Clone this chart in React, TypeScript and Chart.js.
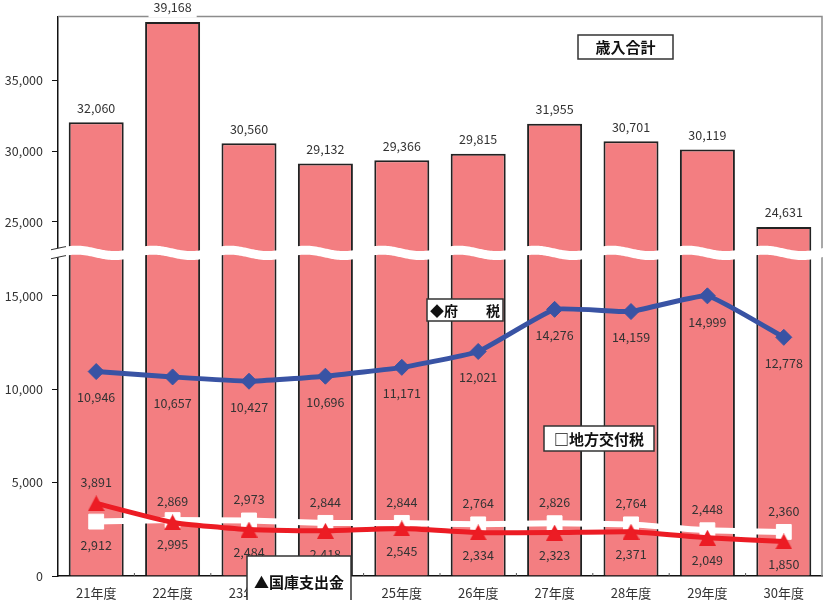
import React, { useEffect, useRef } from 'react';
import { Chart, registerables } from 'chart.js';

Chart.register(...registerables);

// ---- data ----
const categories = ['21年度', '22年度', '23年度', '24年度', '25年度', '26年度', '27年度', '28年度', '29年度', '30年度'];
const totalRevenue = [32060, 39168, 30560, 29132, 29366, 29815, 31955, 30701, 30119, 24631];
const prefTax = [10946, 10657, 10427, 10696, 11171, 12021, 14276, 14159, 14999, 12778];
const localAllocTax = [2912, 2995, 2973, 2844, 2844, 2764, 2826, 2764, 2448, 2360];
const treasuryDisb = [3891, 2869, 2484, 2418, 2545, 2334, 2323, 2371, 2049, 1850];
const lowerTicks = [0, 5000, 10000, 15000];
const upperTicks = [25000, 30000, 35000];
const LOWER_MAX = 17300;
const UPPER_MIN = 22800;
const UPPER_MAX = 39550;

// ---- styles ----
const FONT = '"Noto Sans CJK JP", "Noto Sans", sans-serif';
const BLUE = '#3953A4';
const RED = '#EC1C24';
const PINK = '#F37E81';
const TEXT = '#333333';
const SWAP_INDEX = 2; // from this index the white series label goes above

const fmt = (v: number) => Number(v).toLocaleString('en-US');

function makeTriangle(color: string, w: number, h: number) {
  const c = document.createElement('canvas');
  c.width = w;
  c.height = h;
  const g = c.getContext('2d')!;
  g.fillStyle = color;
  g.beginPath();
  g.moveTo(w / 2, 0);
  g.lineTo(w, h);
  g.lineTo(0, h);
  g.closePath();
  g.fill();
  return c;
}

const decorPlugin = {
  id: 'decor',
  afterDraw(chart: any) {
    const { ctx, chartArea: ca, scales } = chart;
    const xs = scales.x;
    const yL = scales.y;
    const breakY = yL.top;
    ctx.save();

    // plot-area frame (top & right)
    ctx.strokeStyle = '#8c8c8c';
    ctx.lineWidth = 1.5;
    ctx.beginPath();
    ctx.moveTo(ca.left, ca.top);
    ctx.lineTo(ca.right, ca.top);
    ctx.lineTo(ca.right, ca.bottom);
    ctx.stroke();

    // small category-boundary ticks on x axis
    const step = xs.getPixelForValue(1) - xs.getPixelForValue(0);
    ctx.strokeStyle = '#555';
    ctx.lineWidth = 1;
    for (let i = 1; i < categories.length; i++) {
      const px = xs.getPixelForValue(i) - step / 2;
      ctx.beginPath();
      ctx.moveTo(px, ca.bottom - 3);
      ctx.lineTo(px, ca.bottom);
      ctx.stroke();
    }

    // wavy break band
    const x0 = xs.getPixelForValue(0) - step * 0.258;
    const amp = 2.7;
    const half = 4.5;
    const wy = (px: number) => breakY - amp * Math.cos((2 * Math.PI * (px - x0)) / step);
    const xa = 51;
    const xb = 823;
    ctx.fillStyle = '#ffffff';
    ctx.beginPath();
    for (let px = xa; px <= xb; px += 1) ctx.lineTo(px, wy(px) - half);
    for (let px = xb; px >= xa; px -= 1) ctx.lineTo(px, wy(px) + half);
    ctx.closePath();
    ctx.fill();
    // break marks at axis
    ctx.strokeStyle = '#333';
    ctx.lineWidth = 1;
    [-half, half].forEach((off) => {
      ctx.beginPath();
      for (let px = 51; px <= 66; px += 1) {
        if (px === 51) ctx.moveTo(px, wy(px) + off);
        else ctx.lineTo(px, wy(px) + off);
      }
      ctx.stroke();
    });

    // data labels
    ctx.font = `12.5px ${FONT}`;
    ctx.textAlign = 'center';
    ctx.textBaseline = 'middle';

    const prefMeta = chart.getDatasetMeta(0);
    prefMeta.data.forEach((el: any, i: number) => {
      ctx.fillStyle = TEXT;
      ctx.fillText(fmt(prefTax[i]), el.x, el.y + 26);
    });
    const locMeta = chart.getDatasetMeta(1);
    locMeta.data.forEach((el: any, i: number) => {
      const off = i < SWAP_INDEX ? 24 : -21;
      ctx.fillStyle = TEXT;
      ctx.fillText(fmt(localAllocTax[i]), el.x, el.y + off);
    });
    const treMeta = chart.getDatasetMeta(2);
    treMeta.data.forEach((el: any, i: number) => {
      const off = i < SWAP_INDEX ? -21 : 23;
      ctx.fillStyle = TEXT;
      ctx.fillText(fmt(treasuryDisb[i]), el.x, el.y + off);
    });
    const barMeta = chart.getDatasetMeta(4);
    barMeta.data.forEach((el: any, i: number) => {
      const t = fmt(totalRevenue[i]);
      const w = ctx.measureText(t).width + 10;
      const ly = el.y - 14.3;
      ctx.fillStyle = '#ffffff';
      ctx.fillRect(el.x - w / 2, ly - 10, w, 20);
      ctx.fillStyle = TEXT;
      ctx.fillText(t, el.x, ly);
    });

    // legend-like boxes
    const box = (text: string, x1: number, y1: number, x2: number, y2: number, size: number, ty?: number) => {
      ctx.fillStyle = '#ffffff';
      ctx.fillRect(x1, y1, x2 - x1, y2 - y1);
      ctx.strokeStyle = '#333';
      ctx.lineWidth = 1.5;
      ctx.strokeRect(x1, y1, x2 - x1, y2 - y1);
      ctx.fillStyle = '#111';
      ctx.font = `bold ${size}px ${FONT}`;
      ctx.textAlign = 'center';
      ctx.textBaseline = 'middle';
      ctx.fillText(text, (x1 + x2) / 2, ty ?? (y1 + y2) / 2 + 0.5);
    };
    box('歳入合計', 578, 35, 673, 59, 15);
    box('◆府　　税', 427, 299, 503, 321, 14);
    box('□地方交付税', 544, 426, 654, 451, 15);
    box('▲国庫支出金', 247, 556, 351, 630, 15, 582.5);

    ctx.restore();
  },
};

export default function App() {
  const ref = useRef<HTMLCanvasElement | null>(null);

  useEffect(() => {
    document.body.style.margin = '0';
    const canvas = ref.current!;
    const tri = makeTriangle(RED, 17, 16);
    const tickFont = { family: FONT, size: 12.5 };

    const chart = new Chart(canvas, {
      data: {
        labels: categories,
        datasets: [
          {
            type: 'line',
            label: '府税',
            data: prefTax,
            yAxisID: 'y',
            borderColor: BLUE,
            borderWidth: 5,
            tension: 0.12,
            pointStyle: 'rectRot',
            pointRadius: 8,
            pointBackgroundColor: BLUE,
            pointBorderColor: BLUE,
            pointBorderWidth: 1,
            order: 0,
          } as any,
          {
            type: 'line',
            label: '地方交付税',
            data: localAllocTax,
            yAxisID: 'y',
            borderColor: '#ffffff',
            borderWidth: 6,
            tension: 0.12,
            pointStyle: 'rect',
            pointRadius: 10.5,
            pointBackgroundColor: '#ffffff',
            pointBorderColor: '#ffffff',
            pointBorderWidth: 1,
            order: 2,
          } as any,
          {
            type: 'line',
            label: '国庫支出金',
            data: treasuryDisb,
            yAxisID: 'y',
            borderColor: RED,
            borderWidth: 5,
            tension: 0.15,
            pointStyle: tri,
            pointRadius: 9,
            order: 1,
          } as any,
          {
            type: 'bar',
            label: '歳入合計(下)',
            data: totalRevenue.map((v) => [0, Math.min(v, LOWER_MAX)]),
            yAxisID: 'y',
            backgroundColor: PINK,
            borderColor: '#222',
            borderWidth: { left: 2, right: 2, top: 0, bottom: 0 },
            borderSkipped: false,
            grouped: false,
            barPercentage: 0.72,
            categoryPercentage: 1,
            order: 4,
          } as any,
          {
            type: 'bar',
            label: '歳入合計',
            data: totalRevenue,
            yAxisID: 'y2',
            backgroundColor: PINK,
            borderColor: '#222',
            borderWidth: { left: 2, right: 2, top: 2, bottom: 0 },
            borderSkipped: false,
            grouped: false,
            barPercentage: 0.72,
            categoryPercentage: 1,
            order: 3,
          } as any,
        ],
      },
      options: {
        responsive: true,
        maintainAspectRatio: false,
        animation: false,
        layout: { padding: { top: 15, right: 3.5, left: 0, bottom: 0 } },
        plugins: { legend: { display: false }, tooltip: { enabled: false } },
        scales: {
          x: {
            offset: true,
            grid: { display: false, drawTicks: false },
            border: { display: true, color: '#111', width: 1.5 },
            ticks: { font: { family: FONT, size: 13 }, color: TEXT, padding: 9, maxRotation: 0, autoSkip: false },
            afterFit: (s: any) => {
              s.height = 24;
            },
          },
          y: {
            type: 'linear',
            position: 'left',
            stack: 'v',
            stackWeight: 324,
            min: 0,
            max: LOWER_MAX,
            afterBuildTicks: (s: any) => {
              s.ticks = lowerTicks.map((v) => ({ value: v }));
            },
            ticks: { callback: (v: any) => fmt(v), font: tickFont, color: TEXT, padding: 9 },
            grid: { drawOnChartArea: false, drawTicks: true, tickLength: 6, color: '#111' },
            border: { display: true, color: '#111', width: 1.5 },
            afterFit: (s: any) => {
              s.width = 58;
            },
          },
          y2: {
            type: 'linear',
            position: 'left',
            stack: 'v',
            stackWeight: 237,
            min: UPPER_MIN,
            max: UPPER_MAX,
            afterBuildTicks: (s: any) => {
              s.ticks = upperTicks.map((v) => ({ value: v }));
            },
            ticks: { callback: (v: any) => fmt(v), font: tickFont, color: TEXT, padding: 9 },
            grid: { drawOnChartArea: false, drawTicks: true, tickLength: 6, color: '#111' },
            border: { display: true, color: '#111', width: 1.5 },
            afterFit: (s: any) => {
              s.width = 58;
            },
          },
        } as any,
      },
      plugins: [decorPlugin],
    } as any);

    return () => {
      chart.destroy();
    };
  }, []);

  return (
    <div style={{ width: 836, height: 600, position: 'relative' }}>
      <canvas ref={ref} />
    </div>
  );
}
